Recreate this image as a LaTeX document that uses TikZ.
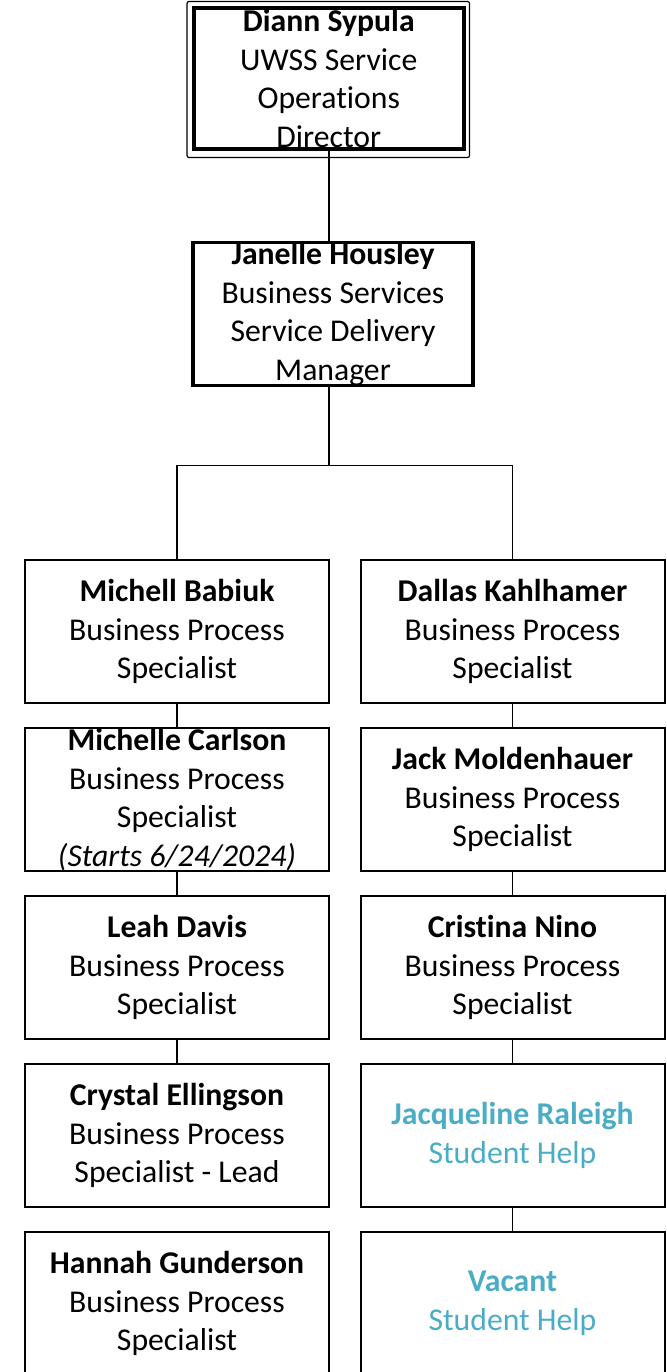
\documentclass[tikz,border=0pt]{standalone}
\usepackage{fontspec}
\setmainfont{Carlito}[Ligatures = NoCommon]
\definecolor{helpblue}{RGB}{75,172,198}
\begin{document}
\begin{tikzpicture}[x = 1pt, y = -1pt,
        every node/.style = {align = center, inner sep = 0pt, font = \fontsize{31.7}{38.5}\selectfont},
        headbox/.style = {draw, line width = 3.5pt, minimum width = 280pt, minimum height = 142pt},
        staffbox/.style = {draw, line width = 2pt, minimum width = 304pt, minimum height = 143pt},
        link/.style = {line width = 1.5pt}]
    \useasboundingbox (0, 0) rectangle (666, 1372);
    \clip (0, 0) rectangle (666, 1372);
    % director and manager
    \node[headbox, line width = 4pt, minimum width = 270.5pt, minimum height = 141pt] (diann) at (328.75, 78.5) {
            \textbf{Diann Sypula}\\UWSS Service\\Operations\\Director
        };
        \draw[rounded corners = 2pt, line width = 1.2pt]
            ([shift = {(-4.5, -4.5)}]diann.north west)
            rectangle
            ([shift = {(3.5, 6.5)}]diann.south east);
    \node[headbox] (janelle) at (333, 314) {
            \textbf{Janelle Housley}\\Business Services\\Service Delivery\\Manager
        };
    % left column
    \node[staffbox] (babiuk) at (177, 631.5) {
            \textbf{Michell Babiuk}\\Business Process\\Specialist
        };
    \node[staffbox] (carlson) at (177, 799.5) {
            \textbf{Michelle Carlson}\\Business Process\\Specialist\\\textit{(Starts 6/24/2024)}
        };
    \node[staffbox] (davis) at (177, 967.5) {
            \textbf{Leah Davis}\\Business Process\\Specialist
        };
    \node[staffbox] (ellingson) at (177, 1135.5) {
            \textbf{Crystal Ellingson}\\Business Process\\Specialist - Lead
        };
    \node[staffbox] (gunderson) at (177, 1303.5) {
            \textbf{Hannah Gunderson}\\Business Process\\Specialist
        };
    % right column
    \node[staffbox] (dallas) at (512.5, 631.5) {
            \textbf{Dallas Kahlhamer}\\Business Process\\Specialist
        };
    \node[staffbox] (moldenhauer) at (512.5, 799.5) {
            \textbf{Jack Moldenhauer}\\Business Process\\Specialist
        };
    \node[staffbox] (nino) at (512.5, 967.5) {
            \textbf{Cristina Nino}\\Business Process\\Specialist
        };
    \node[staffbox, text = helpblue] (raleigh) at (512.5, 1135.5) {
            \textbf{Jacqueline Raleigh}\\Student Help
        };
    \node[staffbox, text = helpblue] (vacant) at (512.5, 1303.5) {
            \textbf{Vacant}\\Student Help
        };
    % reporting lines
    \draw[link] (diann.south) -- (diann.south |- janelle.north);
    \draw[link] (diann.south |- janelle.south) -- ++(0, 78) -| (babiuk.north);
    \draw[link] (diann.south |- janelle.south) -- ++(0, 78) -| (dallas.north);
    \draw[link] (babiuk) -- (carlson);
    \draw[link] (carlson) -- (davis);
    \draw[link] (davis) -- (ellingson);
    \draw[link] (dallas) -- (moldenhauer);
    \draw[link] (moldenhauer) -- (nino);
    \draw[link] (nino) -- (raleigh);
    \draw[link] (raleigh) -- (vacant);
\end{tikzpicture}
\end{document}
